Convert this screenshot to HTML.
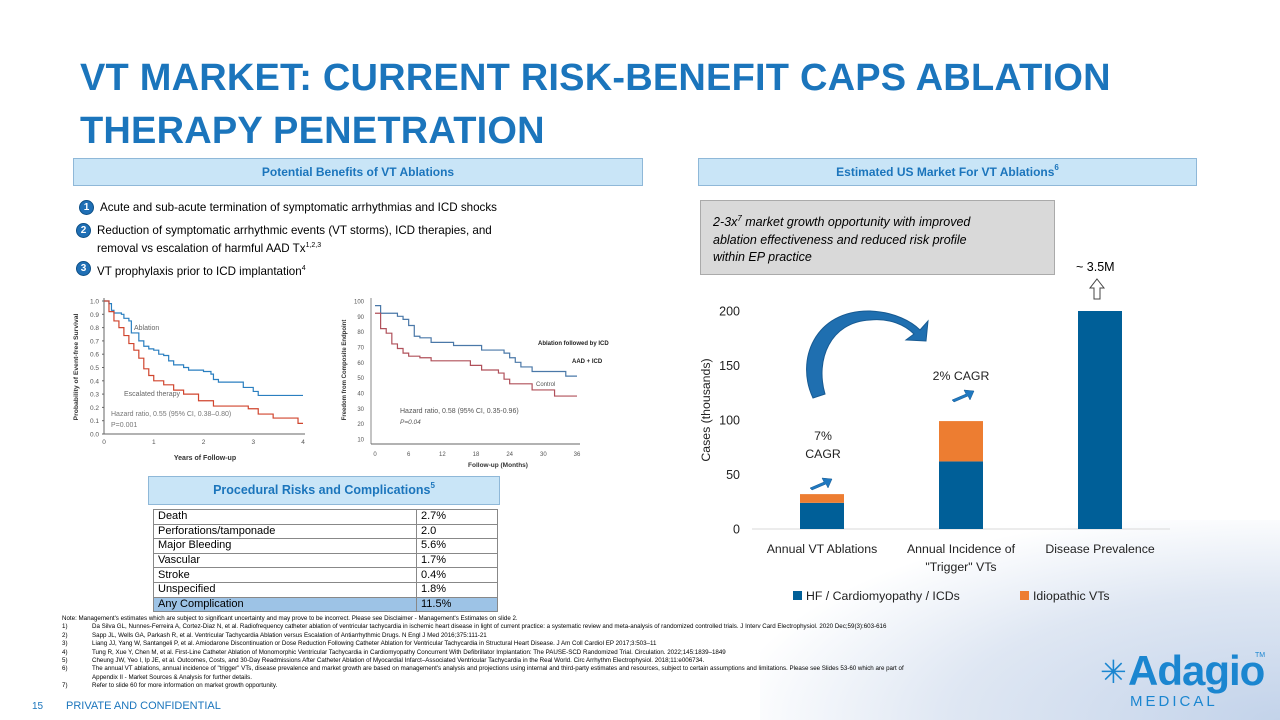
<!DOCTYPE html>
<html><head><meta charset="utf-8">
<style>
*{margin:0;padding:0;box-sizing:border-box}
body{width:1280px;height:720px;position:relative;overflow:hidden;background:#fff;font-family:"Liberation Sans",sans-serif;color:#000}
.abs{position:absolute}
.title{left:80px;top:52px;font-size:38px;font-weight:bold;color:#1b75bc;line-height:53px;letter-spacing:0.2px}
.hdr{background:#c9e5f7;border:1px solid #8fb8d8;color:#1b75bc;font-weight:bold;font-size:12px;text-align:center;line-height:27px}
.hdr sup{font-size:8px;line-height:0;vertical-align:6px}
.bul{font-size:11.6px;line-height:15px}
.num{display:inline-block;width:13px;height:13px;border-radius:50%;background:#1f6fb5;color:#fff;font-size:10px;text-align:center;line-height:13px;font-weight:bold;position:absolute;left:-20px;top:1px;box-shadow:0 0 0 1px #0d4f86}
table{border-collapse:collapse;font-size:11px}
td{border:1px solid #888;padding:0 4px;height:14.6px;line-height:13px}
.fn{font-size:6.2px;line-height:8.4px;left:62px;top:615px;white-space:nowrap}
.fn span{display:inline-block;width:30px}
</style></head><body>
<div class="abs" style="left:760px;top:520px;width:520px;height:200px;background:radial-gradient(ellipse at 100% 100%,#c3d3ea 0%,#dfe7f3 45%,rgba(255,255,255,0) 75%)"></div>
<div class="abs title">VT MARKET: CURRENT RISK-BENEFIT CAPS ABLATION<br>THERAPY PENETRATION</div>

<div class="abs hdr" style="left:73px;top:158px;width:570px;height:28px">Potential Benefits of VT Ablations</div>
<div class="abs hdr" style="left:698px;top:158px;width:499px;height:28px">Estimated US Market For VT Ablations<sup>6</sup></div>

<div class="abs bul" style="left:100px;top:200px"><span class="num">1</span>Acute and sub-acute termination of symptomatic arrhythmias and ICD shocks</div>
<div class="abs bul" style="left:97px;top:223px"><span class="num">2</span>Reduction of symptomatic arrhythmic events (VT storms), ICD therapies, and<br>removal vs escalation of harmful AAD Tx<sup style="font-size:7px">1,2,3</sup></div>
<div class="abs bul" style="left:97px;top:261px"><span class="num">3</span>VT prophylaxis prior to ICD implantation<sup style="font-size:7px">4</sup></div>

<svg class="abs" style="left:0;top:0" width="1280" height="720">
<g id="km1"></g>
<g id="km2"></g>
<g id="bars"></g>
</svg>

<div class="abs hdr" style="left:148px;top:476px;width:352px;height:29px;font-size:12.5px">Procedural Risks and Complications<sup>5</sup></div>
<table class="abs" style="left:153px;top:509px;width:345px">
<tr><td style="width:263px">Death</td><td>2.7%</td></tr>
<tr><td>Perforations/tamponade</td><td>2.0</td></tr>
<tr><td>Major Bleeding</td><td>5.6%</td></tr>
<tr><td>Vascular</td><td>1.7%</td></tr>
<tr><td>Stroke</td><td>0.4%</td></tr>
<tr><td>Unspecified</td><td>1.8%</td></tr>
<tr style="background:#9dc3e6"><td>Any Complication</td><td>11.5%</td></tr>
</table>

<div class="abs" style="left:700px;top:200px;width:355px;height:75px;background:#d9d9d9;border:1px solid #aaa;padding:9px 12px;font-size:12.5px;font-style:italic;line-height:17.5px;white-space:nowrap">2-3x<sup style="font-size:8px">7</sup> market growth opportunity with improved<br>ablation effectiveness and reduced risk profile<br>within EP practice</div>
<div class="abs" style="left:1076px;top:260px;font-size:12.5px">~ 3.5M</div>

<div class="abs fn">Note: Management's estimates which are subject to significant uncertainty and may prove to be incorrect. Please see Disclaimer - Management's Estimates on slide 2.<br>
<span>1)</span>Da Silva GL, Nunnes-Ferreira A, Cortez-Diaz N, et al. Radiofrequency catheter ablation of ventricular tachycardia in ischemic heart disease in light of current practice: a systematic review and meta-analysis of randomized controlled trials. J Interv Card Electrophysiol. 2020 Dec;59(3):603-616<br>
<span>2)</span>Sapp JL, Wells GA, Parkash R, et al. Ventricular Tachycardia Ablation versus Escalation of Antiarrhythmic Drugs. N Engl J Med 2016;375:111-21<br>
<span>3)</span>Liang JJ, Yang W, Santangeli P, et al. Amiodarone Discontinuation or Dose Reduction Following Catheter Ablation for Ventricular Tachycardia in Structural Heart Disease. J Am Coll Cardiol EP 2017;3:503–11<br>
<span>4)</span>Tung R, Xue Y, Chen M, et al. First-Line Catheter Ablation of Monomorphic Ventricular Tachycardia in Cardiomyopathy Concurrent With Defibrillator Implantation: The PAUSE-SCD Randomized Trial. Circulation. 2022;145:1839–1849<br>
<span>5)</span>Cheung JW, Yeo I, Ip JE, et al. Outcomes, Costs, and 30-Day Readmissions After Catheter Ablation of Myocardial Infarct–Associated Ventricular Tachycardia in the Real World. Circ Arrhythm Electrophysiol. 2018;11:e006734.<br>
<span>6)</span>The annual VT ablations, annual incidence of "trigger" VTs, disease prevalence and market growth are based on management's analysis and projections using internal and third-party estimates and resources, subject to certain assumptions and limitations. Please see Slides 53-60 which are part of<br>
<span></span>Appendix II - Market Sources &amp; Analysis for further details.<br>
<span>7)</span>Refer to  slide 60 for more information on market growth opportunity.</div>
<div class="abs" style="left:32px;top:701px;font-size:10px;color:#1b75bc">15</div>
<div class="abs" style="left:66px;top:700px;font-size:11px;color:#1b75bc">PRIVATE AND CONFIDENTIAL</div>
<div class="abs" style="left:1100px;top:650px;width:170px;height:60px">
  <div class="abs" style="left:0;top:6px;font-size:32px;color:#1b86d0;line-height:32px">✳</div>
  <div class="abs" style="left:28px;top:-2px;font-size:42px;color:#1b86d0;font-weight:bold;line-height:46px;letter-spacing:-1px">Adagio</div>
  <div class="abs" style="left:155px;top:2px;font-size:7px;color:#1b86d0">TM</div>
  <div class="abs" style="left:30px;top:43px;font-size:15px;color:#1b86d0;letter-spacing:3px">MEDICAL</div>
</div>

<script>
const NS="http://www.w3.org/2000/svg";
function mk(p,tag,attrs,txt){const e=document.createElementNS(NS,tag);for(const k in attrs)e.setAttribute(k,attrs[k]);if(txt!==undefined)e.textContent=txt;p.appendChild(e);return e;}
// ---- KM chart 1 data ----
const km1Years=[0,0.1,0.15,0.2,0.35,0.4,0.5,0.55,0.7,0.8,0.9,1.0,1.1,1.2,1.3,1.4,1.6,1.7,2.0,2.15,2.2,2.3,2.8,3.0,3.1,4];
const km1Ablation=[1,0.98,0.93,0.91,0.9,0.87,0.85,0.76,0.7,0.66,0.64,0.63,0.6,0.59,0.55,0.52,0.5,0.48,0.47,0.45,0.41,0.39,0.35,0.32,0.29,0.29];
const km1EscYears=[0,0.1,0.2,0.3,0.4,0.5,0.6,0.7,0.8,0.9,1.0,1.2,1.4,1.6,1.9,2.2,2.9,3.1,3.4,3.9,4];
const km1Escalated=[1,0.92,0.85,0.8,0.74,0.68,0.63,0.57,0.49,0.44,0.4,0.37,0.33,0.3,0.25,0.21,0.19,0.15,0.12,0.08,0.08];
const km1YTicks=[0,0.1,0.2,0.3,0.4,0.5,0.6,0.7,0.8,0.9,1.0];
const km1XTicks=[0,1,2,3,4];
// ---- KM chart 2 data ----
const km2AblMonths=[0,1,4,5,6,7,8,10,14,19,23,24,25,26,28,34,36];
const km2Ablation=[97,92,90,88,84,77,76,73,71,68,66,63,60,57,54,51,51];
const km2CtlMonths=[0,1,2,3,4,5,6,8,10,17,19,22,23,24,28,32,36];
const km2Control=[92,82,79,72,69,66,64,63,61,58,55,53,49,46,42,38,38];
const km2YTicks=[10,20,30,40,50,60,70,80,90,100];
const km2XTicks=[0,6,12,18,24,30,36];
// ---- Bar chart data ----
const barCategories=[["Annual VT Ablations"],["Annual Incidence of","\"Trigger\" VTs"],["Disease Prevalence"]];
const barHF=[24,62,200];
const barIdiopathic=[8,37,0];
const barYTicks=[0,50,100,150,200];

function stepPath(xs,ys,sx,sy){let d="M"+sx(xs[0])+","+sy(ys[0]);for(let i=1;i<xs.length;i++){d+=" H"+sx(xs[i])+" V"+sy(ys[i]);}return d;}

// KM1
(function(){
const g=document.getElementById('km1');
const sx=v=>104+v*(303-104)/4, sy=v=>434-v*(434-301);
mk(g,'line',{x1:104,y1:298,x2:104,y2:434,stroke:'#666','stroke-width':1});
mk(g,'line',{x1:104,y1:434,x2:305,y2:434,stroke:'#666','stroke-width':1});
km1YTicks.forEach(t=>{const e=mk(g,'text',{x:99,y:sy(t)+2.5,'font-size':6.5,'text-anchor':'end',fill:'#555'},t.toFixed(1));mk(g,'line',{x1:102,x2:104,y1:sy(t),y2:sy(t),stroke:'#666'});});
km1XTicks.forEach(t=>{const e=mk(g,'text',{x:sx(t),y:444,'font-size':6.5,'text-anchor':'middle',fill:'#555'},t);});
const p1=mk(g,'path',{d:stepPath(km1Years,km1Ablation,sx,sy),fill:'none',stroke:'#2a7fc0','stroke-width':1.2});

const p2=mk(g,'path',{d:stepPath(km1EscYears,km1Escalated,sx,sy),fill:'none',stroke:'#d0452e','stroke-width':1.2});

mk(g,'text',{x:134,y:330,'font-size':7,fill:'#666'},'Ablation');
mk(g,'text',{x:124,y:396,'font-size':7,fill:'#666'},'Escalated therapy');
mk(g,'text',{x:111,y:416,'font-size':7,fill:'#777'},'Hazard ratio, 0.55 (95% CI, 0.38–0.80)');
mk(g,'text',{x:111,y:427,'font-size':7,fill:'#777'},'P=0.001');
mk(g,'text',{x:205,y:460,'font-size':7,'font-weight':'bold','text-anchor':'middle',fill:'#333'},'Years of Follow-up');
mk(g,'text',{x:0,y:0,'font-size':6.8,'font-weight':'bold','text-anchor':'middle',fill:'#333',transform:'translate(78,367) rotate(-90)'},'Probability of Event-free Survival');
})();
// KM2
(function(){
const g=document.getElementById('km2');
const sx=v=>375+v*(577-375)/36, sy=v=>439-(v-10)*(439-301)/90;
mk(g,'line',{x1:371,y1:298,x2:371,y2:444,stroke:'#888'});
mk(g,'line',{x1:371,y1:444,x2:580,y2:444,stroke:'#666'});
km2YTicks.forEach(t=>{const e=mk(g,'text',{x:364,y:sy(t)+2.5,'font-size':6,'text-anchor':'end',fill:'#555'},t);});
km2XTicks.forEach(t=>{const e=mk(g,'text',{x:sx(t),y:456,'font-size':6,'text-anchor':'middle',fill:'#555'},t);});
const p1=mk(g,'path',{d:stepPath(km2AblMonths,km2Ablation,sx,sy),fill:'none',stroke:'#4a78a8','stroke-width':1.2});

const p2=mk(g,'path',{d:stepPath(km2CtlMonths,km2Control,sx,sy),fill:'none',stroke:'#b0505a','stroke-width':1.2});

mk(g,'text',{x:538,y:345,'font-size':6,'font-weight':'bold',fill:'#222'},'Ablation followed by ICD');
mk(g,'text',{x:572,y:363,'font-size':6,'font-weight':'bold',fill:'#222'},'AAD + ICD');
mk(g,'text',{x:536,y:386,'font-size':6,fill:'#555'},'Control');
mk(g,'text',{x:400,y:413,'font-size':7,fill:'#555'},'Hazard ratio, 0.58 (95% CI, 0.35-0.96)');
mk(g,'text',{x:400,y:424,'font-size':6.5,'font-style':'italic',fill:'#555'},'P=0.04');
mk(g,'text',{x:498,y:467,'font-size':6.5,'font-weight':'bold','text-anchor':'middle',fill:'#333'},'Follow-up (Months)');
mk(g,'text',{x:0,y:0,'font-size':6,'font-weight':'bold','text-anchor':'middle',fill:'#333',transform:'translate(346,370) rotate(-90)'},'Freedom from Composite Endpoint');
})();
// Bars
(function(){
const g=document.getElementById('bars');
const y0=529,y200=311, sy=v=>y0-v*(y0-y200)/200;
const cx=[822,961,1100], bw=44;
const sxc=i=>cx[0]+i*(cx[1]-cx[0]);
barYTicks.forEach(t=>{const e=mk(g,'text',{x:740,y:sy(t)+4.5,'font-size':12.5,'text-anchor':'end',fill:'#222'},t);});
mk(g,'line',{x1:752,x2:1170,y1:y0,y2:y0,stroke:'#d9d9d9','stroke-width':1});
barCategories.forEach((c,i)=>{
 const b=mk(g,'rect',{x:sxc(i)-bw/2,y:sy(barHF[i]),width:bw,height:sy(0)-sy(barHF[i]),fill:'#005f98'});
 
 if(barIdiopathic[i]>0){const o=mk(g,'rect',{x:sxc(i)-bw/2,y:sy(barHF[i]+barIdiopathic[i]),width:bw,height:sy(barHF[i])-sy(barHF[i]+barIdiopathic[i]),fill:'#ed7d31'});
 }
 c.forEach((l,j)=>{const t=mk(g,'text',{x:sxc(i),y:553+j*18,'font-size':12.3,'text-anchor':'middle',fill:'#222'},l);});
});
mk(g,'text',{x:0,y:0,'font-size':12.3,'text-anchor':'middle',fill:'#222',transform:'translate(710,410) rotate(-90)'},'Cases (thousands)');
mk(g,'rect',{x:793,y:591,width:9,height:9,fill:'#005f98'});
mk(g,'text',{x:806,y:600,'font-size':12.3,fill:'#222'},'HF / Cardiomyopathy / ICDs');
mk(g,'rect',{x:1020,y:591,width:9,height:9,fill:'#ed7d31'});
mk(g,'text',{x:1033,y:600,'font-size':12.3,fill:'#222'},'Idiopathic VTs');
mk(g,'text',{x:823,y:440,'font-size':12.3,'text-anchor':'middle',fill:'#222'},'7%');
mk(g,'text',{x:823,y:458,'font-size':12.3,'text-anchor':'middle',fill:'#222'},'CAGR');
mk(g,'text',{x:961,y:380,'font-size':12.3,'text-anchor':'middle',fill:'#222'},'2% CAGR');
const a=mk(g,'path',{d:'M813,398 C795,360 815,310 870,311 C895,312 912,322 920,330 L928,321 L926,341 L906,340 L914,334 C905,325 890,318 870,320 C830,322 815,360 825,394 Z',fill:'#1f6fb0',stroke:'#175a92','stroke-width':1});

[[810,488],[952,400]].forEach(p=>{const s=mk(g,'path',{d:`M${p[0]},${p[1]} l14,-6 l-2,-4 l10,1 l-4,9 l-2,-4 l-14,6 z`,fill:'#1f78c0',stroke:'#175a92','stroke-width':0.5});});
mk(g,'path',{d:'M1097,279 L1104,288 L1100,288 L1100,299 L1094,299 L1094,288 L1090,288 Z',fill:'#fff',stroke:'#444','stroke-width':1});
})();
</script>
</body></html>
